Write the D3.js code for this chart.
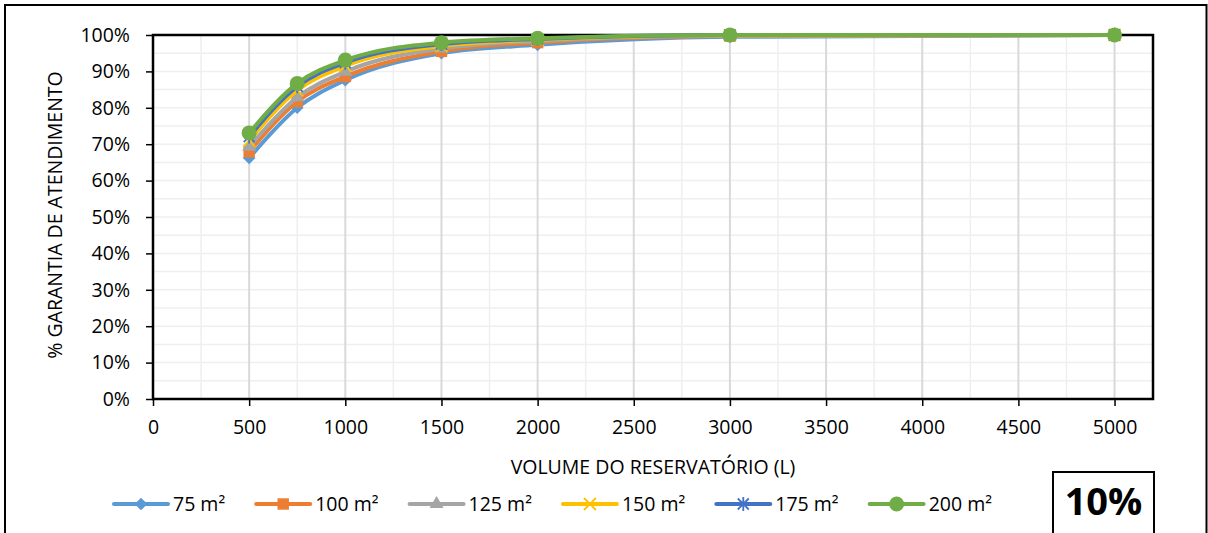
<!DOCTYPE html>
<html>
<head>
<meta charset="utf-8">
<script src="https://cdn.jsdelivr.net/npm/d3@7"></script>
<style>
  body { margin: 0; background: #fff; }
  svg { display: block; font-family: 'Open Sans', sans-serif; }
</style>
</head>
<body>
<svg id="chart"></svg>
<script>
// volumes (L) on the x axis
const volumes = [500, 750, 1000, 1500, 2000, 3000, 5000];

// % garantia for each roof area
const s75  = [66.2, 80.0, 87.6, 95.0, 97.3, 99.5, 100];
const s100 = [67.9, 81.7, 88.6, 95.5, 97.9, 99.7, 100];
const s125 = [69.3, 82.9, 89.9, 96.3, 98.3, 99.8, 100];
const s150 = [71.0, 84.8, 91.5, 97.0, 98.7, 99.9, 100];
const s175 = [72.1, 85.9, 92.4, 97.5, 98.9, 100, 100];
const s200 = [73.1, 86.7, 93.1, 97.9, 99.1, 100, 100];

const seriesNames = ['75 m²', '100 m²', '125 m²', '150 m²', '175 m²', '200 m²'];
const xTicks = [0, 500, 1000, 1500, 2000, 2500, 3000, 3500, 4000, 4500, 5000];
const yTicks = [0, 10, 20, 30, 40, 50, 60, 70, 80, 90, 100];

const colors = ['#5B9BD5', '#ED7D31', '#A5A5A5', '#FFC000', '#4472C4', '#70AD47'];
const markers = ['diamond', 'square', 'triangle', 'x', 'star', 'circle'];

let width = 1208, height = 533;
let margin = { top: 35, right: 55, bottom: 134, left: 153 };
let fontSize = '19.5px';

const svg = d3.select('#chart').attr('width', width).attr('height', height);

// outer chart border (bottom edge is off the picture)
svg.append('path')
  .attr('d', `M5,${height + 5}V5H1206.5V${height + 5}`)
  .attr('fill', 'none')
  .attr('stroke', '#000')
  .attr('stroke-width', 2);

let x = d3.scaleLinear().domain([0, 5200]).range([margin.left, width - margin.right]);
let y = d3.scaleLinear().domain([0, 100]).range([height - margin.bottom, margin.top]);

// minor grid
let grid = svg.append('g');
grid.selectAll('.hminor')
  .data(d3.range(5, 100, 5))
  .enter().append('line')
  .attr('x1', x(0)).attr('x2', x(5200))
  .attr('y1', d => y(d)).attr('y2', d => y(d))
  .attr('stroke', '#efefef').attr('stroke-width', 1.5);
grid.selectAll('.vminor')
  .data(d3.range(250, 5200, 500))
  .enter().append('line')
  .attr('x1', d => x(d)).attr('x2', d => x(d))
  .attr('y1', y(0)).attr('y2', y(100))
  .attr('stroke', '#efefef').attr('stroke-width', 1.5);
grid.selectAll('.vmajor')
  .data(xTicks.slice(1))
  .enter().append('line')
  .attr('x1', d => x(d)).attr('x2', d => x(d))
  .attr('y1', y(0)).attr('y2', y(100))
  .attr('stroke', '#d9d9d9').attr('stroke-width', 2);

// axes
let xAxis = svg.append('g')
  .attr('transform', `translate(0,${y(0)})`)
  .call(d3.axisBottom(x).tickValues(xTicks).tickSize(7).tickPadding(14).tickSizeOuter(0)
    .tickFormat(d3.format('d')));
let yAxis = svg.append('g')
  .attr('transform', `translate(${x(0)},0)`)
  .call(d3.axisLeft(y).tickValues(yTicks).tickSize(7).tickPadding(16).tickSizeOuter(0)
    .tickFormat(d => d + '%'));

[xAxis, yAxis].forEach(g => {
  g.select('.domain').remove();
  g.selectAll('.tick line').attr('stroke', '#000').attr('stroke-width', 1.5);
  g.selectAll('.tick text')
    .attr('fill', '#000')
    .style('font-family', "'Open Sans', sans-serif")
    .style('font-size', fontSize);
});

// plot frame
svg.append('rect')
  .attr('x', x(0)).attr('y', y(100))
  .attr('width', x(5200) - x(0)).attr('height', y(0) - y(100))
  .attr('fill', 'none').attr('stroke', '#000').attr('stroke-width', 2.5);

// axis titles
svg.append('text')
  .attr('x', (x(0) + x(5200)) / 2).attr('y', 474)
  .attr('text-anchor', 'middle')
  .style('font-size', fontSize)
  .text('VOLUME DO RESERVATÓRIO (L)');
svg.append('text')
  .attr('transform', `translate(62,${(y(0) + y(100)) / 2 - 2}) rotate(-90)`)
  .attr('text-anchor', 'middle')
  .style('font-size', fontSize)
  .text('% GARANTIA DE ATENDIMENTO');

function drawMarker(g, type, color, cx, cy) {
  let m = g.append('g').attr('transform', `translate(${cx},${cy})`);
  if (type === 'diamond') {
    m.append('path').attr('d', d3.symbol(d3.symbolSquare, 80)())
      .attr('transform', 'rotate(45)').attr('fill', color);
  } else if (type === 'square') {
    m.append('path').attr('d', d3.symbol(d3.symbolSquare, 130)()).attr('fill', color);
  } else if (type === 'triangle') {
    m.append('path').attr('d', d3.symbol(d3.symbolTriangle, 85)()).attr('fill', color);
  } else if (type === 'x') {
    m.append('path').attr('d', 'M-6,-6L6,6M-6,6L6,-6')
      .attr('stroke', color).attr('stroke-width', 1.8);
  } else if (type === 'star') {
    m.append('path').attr('d', 'M-5.5,-5.5L5.5,5.5M-5.5,5.5L5.5,-5.5M0,-7V7')
      .attr('stroke', color).attr('stroke-width', 1.8);
  } else {
    m.append('circle').attr('r', 7.5).attr('fill', color);
  }
}

let allSeries = [s75, s100, s125, s150, s175, s200];

let line = d3.line()
  .x(d => x(d.v))
  .y(d => y(d.p))
  .curve(d3.curveMonotoneX);

allSeries.forEach((values, i) => {
  let data = volumes.map((v, j) => ({ v, p: values[j] }));
  let g = svg.append('g').attr('class', 'series');
  g.append('path')
    .attr('d', line(data))
    .attr('fill', 'none')
    .attr('stroke', colors[i])
    .attr('stroke-width', 4)
    .attr('stroke-linejoin', 'round');
  data.forEach(d => drawMarker(g, markers[i], colors[i], x(d.v), y(d.p)));
});

// legend
let legend = svg.append('g');
let lx = 114, ly = 504;
seriesNames.forEach((name, i) => {
  let item = legend.append('g');
  item.append('line')
    .attr('x1', lx).attr('x2', lx + 54)
    .attr('y1', ly).attr('y2', ly)
    .attr('stroke', colors[i]).attr('stroke-width', 4).attr('stroke-linecap', 'round');
  drawMarker(item, markers[i], colors[i], lx + 27, ly);
  let t = item.append('text')
    .attr('x', lx + 59).attr('y', ly + 7)
    .style('font-size', fontSize)
    .text(name);
  lx += 59 + t.node().getComputedTextLength() + 31;
});

// percentage box
svg.append('path')
  .attr('d', `M1053,${height + 5}V472H1154V${height + 5}`)
  .attr('fill', 'none').attr('stroke', '#000').attr('stroke-width', 2);
svg.append('text')
  .attr('x', 1103.5).attr('y', 515)
  .attr('text-anchor', 'middle')
  .style('font-size', '38px').style('font-weight', 'bold')
  .text('10%');
</script>
</body>
</html>
